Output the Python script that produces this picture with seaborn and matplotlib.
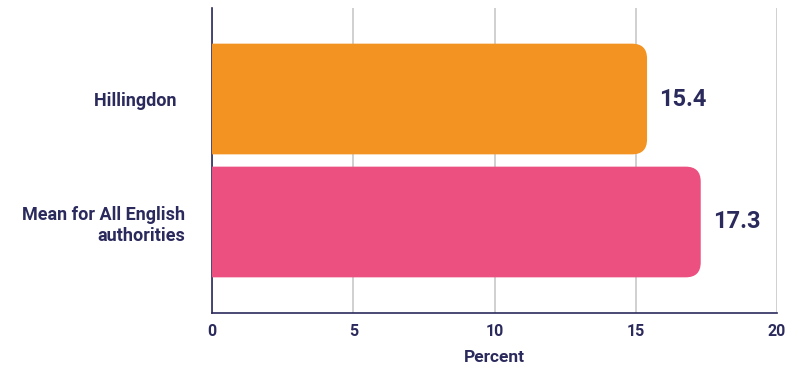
import matplotlib
matplotlib.use("Agg")
import matplotlib.pyplot as plt
import seaborn as sns
import pandas as pd
from matplotlib.patches import FancyBboxPatch

categories = ["Hillingdon", "Mean for All English\nauthorities"]
values = [15.4, 17.3]
colors = ["#F39321", "#EB5080"]
xticks = [0, 5, 10, 15, 20]
xlabel = "Percent"

NAVY = "#2B2A5C"

sns.set_theme(style="white")
plt.rcParams['font.family'] = ['Roboto', 'DejaVu Sans']

df = pd.DataFrame({"cat": categories, "val": values})

RIGHT = 777
fig = plt.figure(figsize=(7.87, 3.72), dpi=100)
ax = fig.add_axes([212/787, 1-313/372, (RIGHT-212)/787, (313-8)/372])

sns.barplot(data=df, y="cat", x="val", hue="cat", palette=colors, legend=False,
            orient="h", width=0.9, saturation=1, ax=ax, zorder=3)

ax.set_xlim(0, 20)
ax.set_ylim(1.74, -0.74)

# replace bars with right-rounded versions
px_per_x = (RIGHT-212)/20
px_per_y = (313-8)/2.48
r_px = 15
for p in list(ax.patches):
    x0, y0 = p.get_x(), p.get_y()
    w, h = p.get_width(), p.get_height()
    fc = p.get_facecolor()
    p.remove()
    rx = r_px/px_per_x
    ext = 1.0
    fb = FancyBboxPatch((x0-ext, y0), w+ext, h,
                        boxstyle=f"round,pad=0,rounding_size={rx}",
                        mutation_aspect=(px_per_x/px_per_y),
                        facecolor=fc, edgecolor="none", zorder=3)
    ax.add_patch(fb)
    ax.text(x0+w+12/px_per_x, y0+h/2, f"{w:.1f}", ha="left", va="center",
            fontsize=17, fontweight="bold", color=NAVY)

ax.set_xticks(xticks)
ax.set_xticklabels([str(t) for t in xticks])
ax.grid(axis="x", color="#C8C8C8", linewidth=1.2, zorder=0)
ax.set_axisbelow(True)
for s in ["top", "right"]:
    ax.spines[s].set_visible(False)
for s in ["left", "bottom"]:
    ax.spines[s].set_color(NAVY)
    ax.spines[s].set_linewidth(1.2)
ax.tick_params(axis="x", length=0, pad=8, labelsize=11.5, labelcolor=NAVY)
ax.tick_params(axis="y", length=0, pad=19, labelsize=13, labelcolor=NAVY)
ax.set_yticks(range(len(categories)))
ax.set_yticklabels([c + ("  " if "\n" not in c else "") for c in categories])
for lab in ax.get_xticklabels() + ax.get_yticklabels():
    lab.set_fontweight("bold")
for lab in ax.get_yticklabels():
    lab.set_horizontalalignment("right")
    lab.set_multialignment("right")
ax.set_ylabel("")
ax.set_xlabel(xlabel, fontsize=12.5, fontweight="bold", color=NAVY, labelpad=8)

fig.savefig("out.png", dpi=100)
